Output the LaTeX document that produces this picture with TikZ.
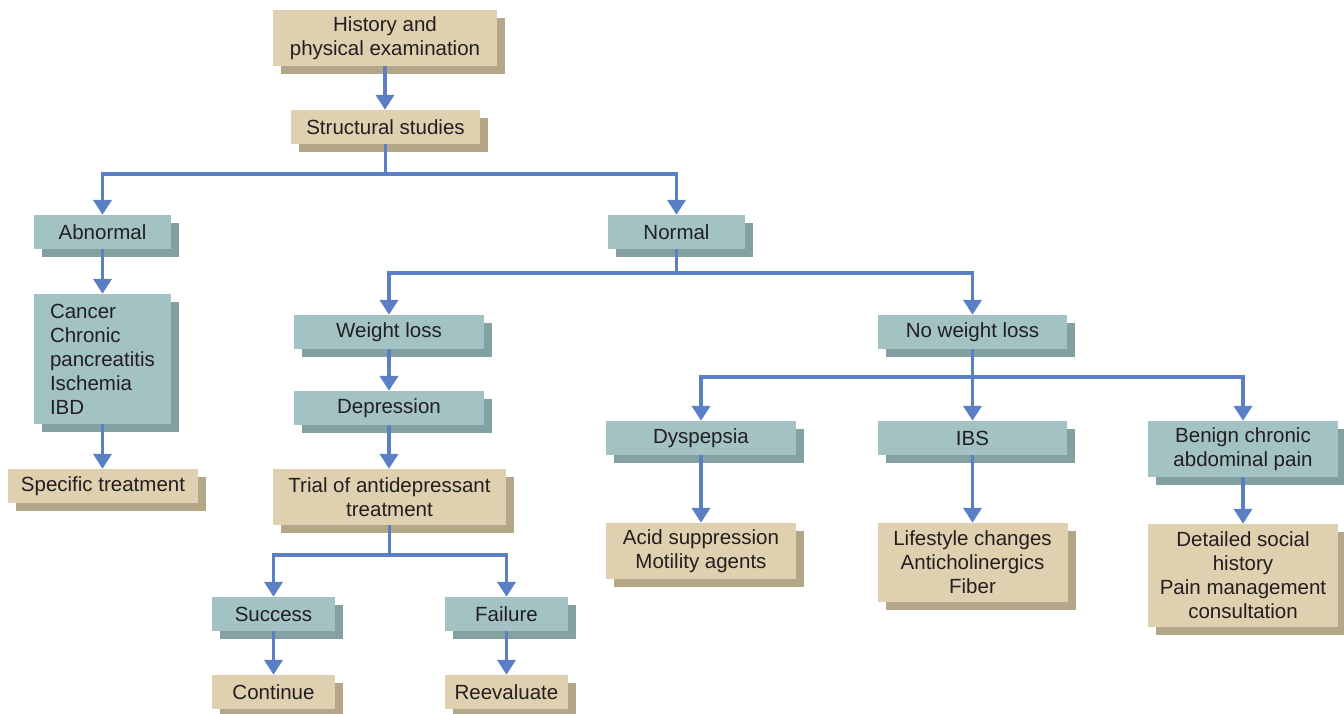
\documentclass[tikz,border=0pt]{standalone}
\usepackage{fontspec}
\setmainfont{Liberation Sans}
\usetikzlibrary{arrows.meta,shadows}
\definecolor{tanF}{HTML}{DFD0AF}
\definecolor{tanS}{HTML}{B3A788}
\definecolor{tealF}{HTML}{A2C2C4}
\definecolor{tealS}{HTML}{84A1A2}
\definecolor{arrblue}{HTML}{5B7FC4}
\definecolor{txt}{HTML}{231F20}
\tikzset{
  basebox/.style={inner sep=0pt, align=center, text=txt,
    font=\fontsize{20.5}{24}\selectfont},
  tanbox/.style={basebox, fill=tanF,
    general shadow={fill=tanS, shadow xshift=8pt, shadow yshift=-8pt}},
  tealbox/.style={basebox, fill=tealF,
    general shadow={fill=tealS, shadow xshift=8pt, shadow yshift=-8pt}},
  sz/.style 2 args={minimum width=#1pt, minimum height=#2pt},
  arr/.style={draw=arrblue, line width=3.8pt,
    -{Triangle[width=18pt,length=15pt]}},
  ln/.style={draw=arrblue, line width=3.8pt}
}
\begin{document}
\begin{tikzpicture}[x=1pt,y=-1pt]
\useasboundingbox (0,0) rectangle (1344,714);
% boxes
\node[tanbox, sz={224}{56}] (hist) at (385,38) {History and\\physical examination};
\node[tanbox, sz={189}{34}] (struct) at (385.5,127) {Structural studies};
\node[tealbox, sz={137}{34}] (abn) at (102.5,232) {Abnormal};
\node[tealbox, sz={137}{34}] (norm) at (676.5,232) {Normal};
\node[tealbox, minimum height=130pt, text width=105pt, inner xsep=16pt, align=left] (canc) at (102.5,359) {Cancer\\Chronic\\pancreatitis\\Ischemia\\IBD};
\node[tanbox, sz={190}{34}] (spec) at (103,486) {Specific treatment};
\node[tealbox, sz={190}{34}] (wl) at (389,332) {Weight loss};
\node[tealbox, sz={189}{34}] (nwl) at (972.5,332) {No weight loss};
\node[tealbox, sz={190}{34}] (dep) at (389,408) {Depression};
\node[tanbox, sz={233}{56}] (trial) at (389.5,497) {Trial of antidepressant\\treatment};
\node[tealbox, sz={190}{34}] (dys) at (701,438) {Dyspepsia};
\node[tealbox, sz={189}{34}] (ibs) at (972.5,438) {IBS};
\node[tealbox, sz={190}{56}] (ben) at (1243,449) {Benign chronic\\abdominal pain};
\node[tanbox, sz={190}{56}] (acid) at (701,551) {Acid suppression\\Motility agents};
\node[tanbox, sz={190}{79}] (life) at (972.5,562.5) {Lifestyle changes\\Anticholinergics\\Fiber};
\node[tanbox, sz={190}{103}] (det) at (1243,575.5) {Detailed social\\history\\Pain management\\consultation};
\node[tealbox, sz={123}{34}] (succ) at (273.5,614) {Success};
\node[tealbox, sz={123}{34}] (fail) at (506.5,614) {Failure};
\node[tanbox, sz={123}{34}] (cont) at (273.5,692) {Continue};
\node[tanbox, sz={123}{34}] (reev) at (506.5,692) {Reevaluate};
% junctions
\coordinate (j1) at (385.5,174);
\coordinate (j2) at (676.5,273);
\coordinate (j3) at (972.5,377);
\coordinate (j4) at (389.5,555);
% connectors
\draw[arr] (hist.south) -- (hist.south |- struct.north);
\draw[ln] (struct.south) -- (j1);
\draw[arr] (j1) -| (abn.north);
\draw[arr] (j1) -| (norm.north);
\draw[arr] (abn.south) -- (canc.north);
\draw[arr] (canc.south) -- (canc.south |- spec.north);
\draw[ln] (norm.south) -- (j2);
\draw[arr] (j2) -| (wl.north);
\draw[arr] (j2) -| (nwl.north);
\draw[arr] (wl.south) -- (dep.north);
\draw[arr] (dep.south) -- (dep.south |- trial.north);
\draw[ln] (trial.south) -- (j4);
\draw[arr] (j4) -| (succ.north);
\draw[arr] (j4) -| (fail.north);
\draw[arr] (succ.south) -- (cont.north);
\draw[arr] (fail.south) -- (reev.north);
\draw[ln] (nwl.south) -- (j3);
\draw[arr] (j3) -| (dys.north);
\draw[arr] (j3) -- (ibs.north);
\draw[arr] (j3) -| (ben.north);
\draw[arr] (dys.south) -- (acid.north);
\draw[arr] (ibs.south) -- (ibs.south |- life.north);
\draw[arr] (ben.south) -- (det.north);
\end{tikzpicture}
\end{document}
